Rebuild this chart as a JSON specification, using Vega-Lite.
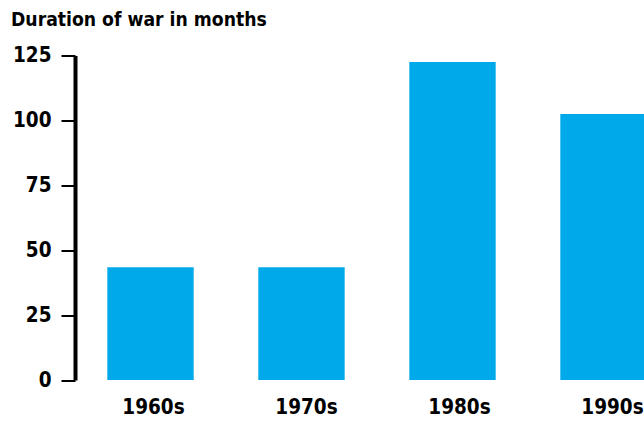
{
  "$schema": "https://vega.github.io/schema/vega-lite/v6.json",
  "width": 569,
  "height": 324.5,
  "autosize": {"type": "none"},
  "padding": {"left": 75, "top": 55.5, "right": 0, "bottom": 42},
  "background": "white",
  "title": {
    "text": "Duration of war in months",
    "anchor": "start",
    "frame": "group",
    "dx": -64,
    "offset": 0,
    "font": "DejaVu Sans Condensed",
    "fontWeight": "bold",
    "fontSize": 19.2,
    "color": "#000000",
    "baseline": "alphabetic"
  },
  "data": {
    "values": [
      {"decade": "1960s", "months": 43.4},
      {"decade": "1970s", "months": 43.4},
      {"decade": "1980s", "months": 122.5},
      {"decade": "1990s", "months": 102.5}
    ]
  },
  "encoding": {
    "y": {
      "field": "months",
      "type": "quantitative",
      "scale": {"domain": [0, 125], "nice": false},
      "axis": {
        "title": null,
        "values": [0, 25, 50, 75, 100, 125],
        "grid": false,
        "domainColor": "#000000",
        "domainWidth": 4,
        "tickColor": "#000000",
        "tickWidth": 2,
        "tickSize": 14,
        "labelPadding": 10,
        "labelFont": "DejaVu Sans Condensed",
        "labelFontWeight": "bold",
        "labelFontSize": 20.5,
        "labelColor": "#000000",
        "labelBaseline": "middle"
      }
    }
  },
  "layer": [
    {
      "mark": {"type": "bar", "color": "#00a9e9", "clip": true},
      "encoding": {
        "x": {
          "field": "decade",
          "type": "nominal",
          "sort": null,
          "scale": {"range": [0, 604], "paddingInner": 0.428, "paddingOuter": 0.214},
          "axis": null
        }
      }
    },
    {
      "mark": {"type": "point", "opacity": 0},
      "encoding": {
        "x": {
          "field": "decade",
          "type": "nominal",
          "sort": null,
          "scale": {"type": "point", "range": [78, 537], "padding": 0},
          "axis": {
            "orient": "bottom",
            "title": null,
            "domain": false,
            "ticks": false,
            "tickSize": 0,
            "labelAngle": 0,
            "labelPadding": 17,
            "labelFont": "DejaVu Sans Condensed",
            "labelFontWeight": "bold",
            "labelFontSize": 20.5,
            "labelColor": "#000000"
          }
        }
      }
    }
  ],
  "resolve": {"scale": {"x": "independent"}, "axis": {"x": "independent"}},
  "config": {"view": {"stroke": null}}
}
